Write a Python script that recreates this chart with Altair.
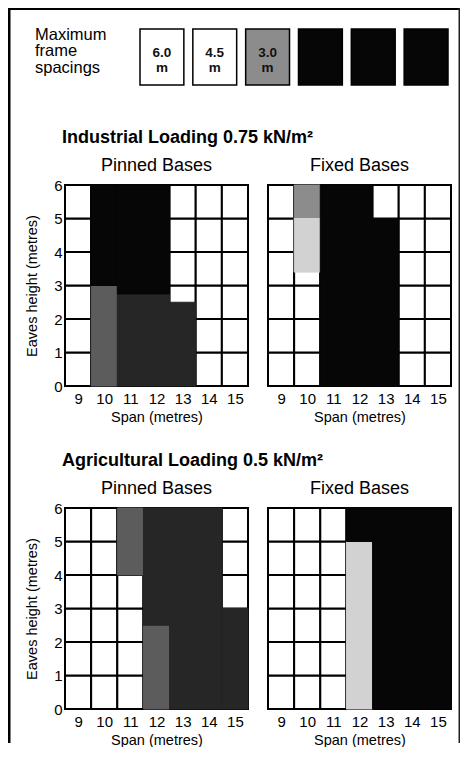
import altair as alt
import pandas as pd

FONT = "Liberation Sans"

# ---------------- data ----------------
spans = [9, 10, 11, 12, 13, 14, 15]
height_ticks = [0, 1, 2, 3, 4, 5, 6]

legend_keys = ["s1", "s2", "s3", "s4", "s5", "s6"]
legend_labels = ["6.0\nm", "4.5\nm", "3.0\nm", "", "", ""]
legend_shades = ["white", "white", "mid", "black", "black", "black"]
legend_caption = ["Maximum\nframe\nspacings"]

shade_names = ["white", "light", "mid", "speckle", "dark", "black"]
shade_colors = ["#ffffff", "#d2d2d2", "#8c8c8c", "#5c5c5c", "#262626", "#060606"]

row_titles = ["Industrial Loading 0.75 kN/m²", "Agricultural Loading 0.5 kN/m²"]
panel_titles = ["Pinned Bases", "Fixed Bases"]
x_title = "Span (metres)"
y_title = "Eaves height (metres)"

# shaded blocks: first span, last span, bottom height, top height, shade
ind_pin_from = [10, 10, 11, 11, 13]
ind_pin_to = [10, 10, 12, 12, 13]
ind_pin_bottom = [0, 3, 0, 2.75, 0]
ind_pin_top = [3, 6, 2.75, 6, 2.5]
ind_pin_shade = ["speckle", "black", "dark", "black", "dark"]

ind_fix_from = [10, 10, 11, 13]
ind_fix_to = [10, 10, 12, 13]
ind_fix_bottom = [5, 3.4, 0, 0]
ind_fix_top = [6, 5, 6, 5]
ind_fix_shade = ["mid", "light", "black", "black"]

agr_pin_from = [11, 12, 12, 13, 15]
agr_pin_to = [11, 12, 12, 14, 15]
agr_pin_bottom = [4, 0, 2.5, 0, 0]
agr_pin_top = [6, 2.5, 6, 6, 3]
agr_pin_shade = ["speckle", "speckle", "dark", "dark", "dark"]

agr_fix_from = [12, 12, 13]
agr_fix_to = [12, 12, 15]
agr_fix_bottom = [0, 5, 0]
agr_fix_top = [5, 6, 6]
agr_fix_shade = ["light", "black", "black"]

# ---------------- helpers ----------------
shade_scale = alt.Scale(domain=shade_names, range=shade_colors)
PW, PH = 183, 201


def panel(frm, to, bot, top, shade, title, show_y, title_offset):
    grid = pd.DataFrame(
        [(s - 0.5, s + 0.5, h, h + 1) for s in spans for h in height_ticks[:-1]],
        columns=["x1", "x2", "y1", "y2"],
    )
    blocks = pd.DataFrame({
        "x1": [f - 0.5 for f in frm],
        "x2": [t + 0.5 for t in to],
        "y1": bot,
        "y2": top,
        "shade": shade,
    })
    xs = alt.Scale(domain=[8.5, 15.5], nice=False, zero=False)
    ys = alt.Scale(domain=[0, 6], nice=False, zero=False)
    xaxis = alt.Axis(values=spans, title=x_title, ticks=False, domain=False, grid=False,
                     labelAngle=0, labelPadding=5, titlePadding=4, labelFlush=False,
                     labelOverlap=False, format="d")
    if show_y:
        yaxis = alt.Axis(values=height_ticks, title=y_title, ticks=False, domain=False,
                         grid=False, labelPadding=3, titlePadding=14, labelFlush=False,
                         labelOverlap=False, format="d")
    else:
        yaxis = None

    cells = alt.Chart(grid).mark_rect(fill="white", stroke="black", strokeWidth=2).encode(
        x=alt.X("x1:Q", scale=xs, axis=xaxis), x2="x2:Q",
        y=alt.Y("y1:Q", scale=ys, axis=yaxis), y2="y2:Q",
    )
    fills = alt.Chart(blocks).mark_rect(strokeWidth=1).encode(
        x=alt.X("x1:Q", scale=xs, axis=xaxis), x2="x2:Q",
        y=alt.Y("y1:Q", scale=ys, axis=yaxis), y2="y2:Q",
        color=alt.Color("shade:N", scale=shade_scale, legend=None),
        stroke=alt.Stroke("shade:N", scale=shade_scale, legend=None),
    )
    return alt.layer(cells, fills).properties(
        width=PW, height=PH,
        title=alt.TitleParams(title, fontSize=18, fontWeight="normal", font=FONT,
                              anchor="middle", offset=title_offset, color="black"),
    )


# ---------------- legend cell (also carries the outer frame and row titles) ----------------
one = pd.DataFrame({"a": [0]})
legend_df = pd.DataFrame({"key": legend_keys, "label": legend_labels, "shade": legend_shades})
lx = alt.Scale(domain=legend_keys, range=[75, 383], paddingInner=0.17, paddingOuter=0)

frame_left = alt.Chart(one).mark_rect(color="black").encode(
    x=alt.value(-57), x2=alt.value(-54.5), y=alt.value(-1), y2=alt.value(734))
frame_top = alt.Chart(one).mark_rect(color="black").encode(
    x=alt.value(-57), x2=alt.value(395), y=alt.value(-1), y2=alt.value(1))
frame_right = alt.Chart(one).mark_rect(color="#222222").encode(
    x=alt.value(393.5), x2=alt.value(395), y=alt.value(-1), y2=alt.value(734))

boxes = alt.Chart(legend_df).mark_rect(stroke="black", strokeWidth=1.5).encode(
    x=alt.X("key:N", scale=lx, axis=None, sort=legend_keys),
    y=alt.value(20), y2=alt.value(76),
    color=alt.Color("shade:N", scale=shade_scale, legend=None),
)
box_text = alt.Chart(legend_df).mark_text(
    fontSize=13.5, fontWeight="bold", font=FONT, lineBreak="\n", lineHeight=14.5,
    baseline="middle", color="#111111",
).encode(x=alt.X("key:N", scale=lx, axis=None, sort=legend_keys), y=alt.value(44), text="label:N")

caption = alt.Chart(pd.DataFrame({"t": legend_caption})).mark_text(
    align="left", baseline="middle", fontSize=16.5, font=FONT, lineBreak="\n",
    lineHeight=16.5, color="black",
).encode(text="t:N", x=alt.value(-30), y=alt.value(25.5))

row_title_df = pd.DataFrame({"t": row_titles, "yy": [133.5, 456.5]})
row_title_marks = alt.Chart(row_title_df).mark_text(
    align="left", baseline="alphabetic", fontSize=18, fontWeight="bold",
    font=FONT, color="black",
).encode(text="t:N", x=alt.value(-3), y=alt.Y("yy:Q", scale=None, axis=None))

legend = alt.layer(frame_left, frame_top, frame_right, boxes, box_text, caption,
                   row_title_marks).properties(width=PW, height=54)

blank = alt.Chart(one).mark_point(opacity=0, size=1).encode(
    x=alt.value(1), y=alt.value(1)).properties(width=PW, height=54)

p11 = panel(ind_pin_from, ind_pin_to, ind_pin_bottom, ind_pin_top, ind_pin_shade,
            panel_titles[0], True, 3)
p12 = panel(ind_fix_from, ind_fix_to, ind_fix_bottom, ind_fix_top, ind_fix_shade,
            panel_titles[1], False, 9)
p21 = panel(agr_pin_from, agr_pin_to, agr_pin_bottom, agr_pin_top, agr_pin_shade,
            panel_titles[0], True, 3)
p22 = panel(agr_fix_from, agr_fix_to, agr_fix_bottom, agr_fix_top, agr_fix_shade,
            panel_titles[1], False, 9)

chart = alt.concat(
    legend, blank, p11, p12, p21, p22,
    columns=2,
    spacing=alt.RowColnumber(row=122, column=20),
    bounds="flush",
    align="each",
).properties(padding=0, background="white").configure_view(strokeWidth=0).configure_axis(
    labelFont=FONT, labelFontSize=15, labelColor="black",
    titleFont=FONT, titleFontSize=14.5, titleFontWeight="normal", titleColor="black",
)

chart.save("out.html", embed_options={"renderer": "svg", "actions": False})
